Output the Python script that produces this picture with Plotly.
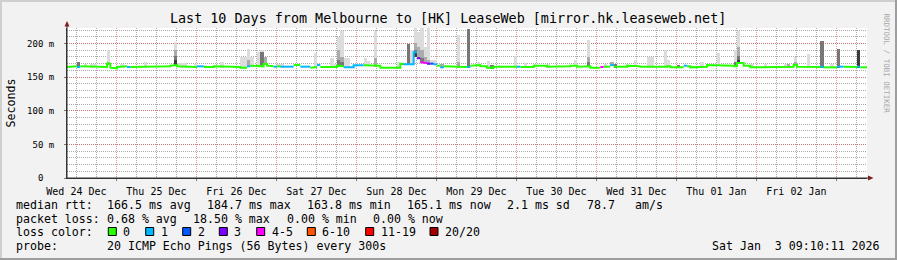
import plotly.graph_objects as go
import pandas as pd

START = "2025-12-24 09:10:11"
END = "2026-01-03 09:10:11"

# hourly median RTT (ms), one list per day of the 10-day window
median_d1 = [165,165.5,166,165,166,166,165,165,166,166,165,165,170,164,163,165,165,166,165,165,166,166,165,165]
median_d2 = [165,166,165,165,166,165,166,167,168,166,165,165,166,165,165,166,166,165,164,165,166,165,165,166]
median_d3 = [165,166,165,165,164,164,166,167,167,167,166,169.5,167,166,165.5,166,165.5,165.5,165.5,165.5,168,168,165.5,165.5]
median_d4 = [165.5,164,165,168,165,165,166,166,165,167,166,164.5,164.5,164.5,167.5,167.5,167.5,167.5,167.5,167.5,167,167,164,164]
median_d5 = [164,164,164,164,170,169,169,169,187,178,172,171,170,170,169,167,164.5,166,165,165,166,165,165,165]
median_d6 = [165,167,167,168,166,166,164,164,165.5,165.5,165.5,165.5,165.5,165.5,165.5,165.5,165,165,165,165,167,167,166,167]
median_d7 = [165.5,165.5,165.5,165.5,166,166,166,167,167,165.5,165.5,165.5,166,164,164,164,165,165.5,165.5,168,165.5,165.5,165.5,165.5]
median_d8 = [167,167,167,166,165.5,165.5,164.5,164.5,164.5,165.5,165.5,165.5,166,164.5,164.5,164.5,164.5,167,166,164.5,164.5,164.5,165.5,165.5]
median_d9 = [168,168,168,168,168,168,167,167,166,171,171,167,167,164.5,164.5,165.5,165.5,165.5,165.5,165.5,164.5,164.5,165.5,165.5]
median_d10 = [165.5,165.5,168,165.5,165.5,164.5,164.5,165,165,165,165.5,164.5,164.5,164.5,164.5,165.5,165.5,165.5,165,165,165,165.5,164.5,164.5]
median_rtt = (median_d1 + median_d2 + median_d3 + median_d4 + median_d5 +
              median_d6 + median_d7 + median_d8 + median_d9 + median_d10)

# hours with packet loss (pings lost out of 20)
loss_hours = [3,18,39,40,54,62,64,65,66,67,70,71,72,75,83,84,85,86,87,88,
              101,102,103,104,105,106,107,108,109,110,112,120,135,160,163,185,226,231,232,237]
loss_values = [1,1,1,1,1,1,1,1,1,1,1,1,1,1,1,1,1,1,1,1,
               1,1,1,1,3,4,4,3,2,1,1,1,1,4,1,1,1,1,1,1]

# smoke (ping spread) layers: hour index and top of the band in ms
light_hours = [3,5,7,8,12,16,23,32,33,34,35,38,41,46,52,53,54,55,57,58,59,63,64,74,79,80,81,82,83,84,89,90,92,99,102,103,104,105,106,107,108,109,110,117,123,126,134,137,140,144,152,156,161,170,174,175,179,180,190,195,200,201,205,209,215,218,222,229]
light_tops = [172,170,170,170,191,170,172,202,171,171,171,170,168,172,180,180,192,180,188,190,180,170,170,186,178,170,210,218,178,178,178,174,218,172,199,190,225,217,225,195,225,175,175,212,172,174,181,171,170,170,175,205,170,175,180,180,190,175,172,186,190,218,170,169,169,180,185,169]
mid_hours = [12,32,54,59,81,82,92,104,105,106,107,108,112,117,156,163,201,216,218]
mid_tops = [172,190,175,180,190,180,178,200,195,190,180,175,170,172,180,172,195,170,172]
dark_hours = [3,32,58,75,81,82,100,102,104,105,106,120,127,156,164,183,200,201,226,231]
dark_tops = [172,182,188,168,175,172,168,199,190,180,178,222,168,172,170,168,172,182,204,192]
black_hours = [32,104,201,237]
black_tops = [176,180,175,190]

loss_labels = ["0", "1", "2", "3", "4-5", "6-10", "11-19", "20/20"]
loss_bounds = [0, 1, 2, 3, 5, 10, 19, 20]
loss_colors = ["#26ff00", "#00b8ff", "#0059ff", "#7e00ff", "#ff00ff", "#ff5500", "#ff0000", "#a00000"]

day_tick_format = "%a %d %b"
y_tickvals = [0, 50, 100, 150, 200]
y_ticktext = ["0\u00a0\u2004", "50 m", "100 m", "150 m", "200 m"]

title_text = "Last 10 Days from Melbourne to [HK] LeaseWeb [mirror.hk.leaseweb.net]"
rows = [
    [("median rtt:", 16), ("166.5 ms avg", 107), ("184.7 ms max", 207), ("163.8 ms min", 307),
     ("165.1 ms now", 407), ("2.1 ms sd", 507), ("78.7", 587), ("am/s", 635)],
    [("packet loss:", 16), ("0.68 % avg", 107), ("18.50 % max", 192.7), ("0.00 % min", 286.7),
     ("0.00 % now", 372.7)],
    [("loss color:", 16)],
    [("probe:", 16), ("20 ICMP Echo Pings (56 Bytes) every 300s", 107)],
]
row_y = [204.5, 218.5, 231.5, 246]
box_x = [108.3, 145.7, 182.7, 219.3, 256.7, 307.3, 365.7, 430]
stamp = "Sat Jan  3 09:10:11 2026"

# ---------------- geometry (pixels) ----------------
W, H = 897, 260
L, R, T, B = 67, 867, 28, 178
PW, PH = R - L, B - T
Y_MAX = 223
FONT = "DejaVu Sans Mono"


def fx(px):
    return (px - L) / PW


def fy(py):
    return (B - py) / PH


edges = pd.date_range(START, periods=len(median_rtt) + 1, freq="h")
centers = edges[:-1] + pd.Timedelta(minutes=30)

fig = go.Figure()

# smoke layers
for hrs, tops, col in [(light_hours, light_tops, "#dcdcdc"),
                       (mid_hours, mid_tops, "#ababab"),
                       (dark_hours, dark_tops, "#777777"),
                       (black_hours, black_tops, "#3c3c3c")]:
    base = [median_rtt[h] - 1.5 for h in hrs]
    fig.add_trace(go.Bar(
        x=[centers[h] for h in hrs], y=[t - b for t, b in zip(tops, base)], base=base,
        width=3600000, marker=dict(color=col, line=dict(width=0)),
        hoverinfo="skip", showlegend=False))

# loss category per hour
loss_by_hour = [0] * len(median_rtt)
for h, v in zip(loss_hours, loss_values):
    loss_by_hour[h] = v
cat = []
for v in loss_by_hour:
    for i, b in enumerate(loss_bounds):
        if v <= b:
            cat.append(i)
            break

for c, col in enumerate(loss_colors):
    xs, ys, prev = [], [], False
    for h, m in enumerate(median_rtt):
        if cat[h] == c:
            xs += [edges[h], edges[h + 1]]
            ys += [m, m]
            prev = True
        elif prev:
            xs.append(None)
            ys.append(None)
            prev = False
    if xs:
        fig.add_trace(go.Scatter(x=xs, y=ys, mode="lines",
                                 line=dict(color=col, width=2, shape="linear"),
                                 hoverinfo="skip", showlegend=False, connectgaps=False))

grid_gray = "rgba(143,143,143,0.75)"
grid_red = "rgba(222,79,79,0.6)"

fig.update_layout(
    width=W, height=H,
    margin=dict(l=L, r=W - R, t=T, b=H - B, pad=0, autoexpand=False),
    paper_bgcolor="#f2f2f2", plot_bgcolor="#ffffff",
    barmode="overlay", bargap=0,
    font=dict(family=FONT, color="#000000"),
    showlegend=False,
    xaxis=dict(
        type="date", range=[START, END], automargin=False,
        dtick=86400000, tick0="2025-12-24 00:00:00",
        tickformat=day_tick_format, ticklabelmode="period",
        tickfont=dict(size=10, family=FONT),
        ticks="outside", ticklen=2, tickcolor="#777",
        showgrid=True, gridcolor=grid_red, griddash="1px,1px", gridwidth=1,
        minor=dict(dtick=6 * 3600000, tick0="2025-12-24 00:00:00", showgrid=True,
                   gridcolor=grid_gray, griddash="1px,1px", gridwidth=1),
        showline=True, linecolor="#333333", linewidth=1,
        zeroline=False, fixedrange=True, ticklabelstandoff=2,
    ),
    yaxis=dict(
        range=[0, Y_MAX], tickvals=y_tickvals, ticktext=y_ticktext, automargin=False,
        tickfont=dict(size=9, family=FONT),
        ticks="outside", ticklen=2, tickcolor="#777",
        showgrid=True, gridcolor=grid_red, griddash="1px,1px", gridwidth=1,
        minor=dict(dtick=10, showgrid=True, gridcolor=grid_gray, griddash="1px,1px", gridwidth=1),
        showline=True, linecolor="#333333", linewidth=1,
        zeroline=False, fixedrange=True, ticklabelstandoff=8,
    ),
)

shapes = []
# frame shading
shapes += [
    dict(type="rect", xref="paper", yref="paper", x0=fx(0), x1=fx(2), y0=fy(0), y1=fy(H), fillcolor="#cfcfcf", line=dict(width=0), layer="above"),
    dict(type="rect", xref="paper", yref="paper", x0=fx(0), x1=fx(W), y0=fy(0), y1=fy(2), fillcolor="#cfcfcf", line=dict(width=0), layer="above"),
    dict(type="rect", xref="paper", yref="paper", x0=fx(W - 2), x1=fx(W), y0=fy(0), y1=fy(H), fillcolor="#9e9e9e", line=dict(width=0), layer="above"),
    dict(type="rect", xref="paper", yref="paper", x0=fx(0), x1=fx(W), y0=fy(H - 2), y1=fy(H), fillcolor="#9e9e9e", line=dict(width=0), layer="above"),
]
# axis extensions and arrows
shapes += [
    dict(type="line", xref="paper", yref="paper", x0=fx(67), x1=fx(67), y0=fy(B), y1=fy(26), line=dict(color="#333333", width=1)),
    dict(type="line", xref="paper", yref="paper", x0=fx(L), x1=fx(869), y0=fy(178), y1=fy(178), line=dict(color="#333333", width=1)),
    dict(type="path", xref="paper", yref="paper",
         path=f"M {fx(64.5)} {fy(26.5)} L {fx(69.5)} {fy(26.5)} L {fx(67)} {fy(21)} Z",
         fillcolor="#801f1f", line=dict(width=0)),
    dict(type="path", xref="paper", yref="paper",
         path=f"M {fx(868)} {fy(175.5)} L {fx(868)} {fy(180.5)} L {fx(873.5)} {fy(178)} Z",
         fillcolor="#801f1f", line=dict(width=0)),
]
# loss colour boxes
for bx, col in zip(box_x, loss_colors):
    shapes.append(dict(type="rect", xref="paper", yref="paper",
                       x0=fx(bx), x1=fx(bx + 8), y0=fy(row_y[2] - 4), y1=fy(row_y[2] + 4),
                       fillcolor=col, line=dict(color="#000000", width=1)))
fig.update_layout(shapes=shapes)


def ann(text, x, y, size, xanchor="left", color="#000000", angle=0):
    return dict(text=text.replace(" ", "\u00a0"), x=fx(x), y=fy(y), xref="paper", yref="paper",
                xanchor=xanchor, yanchor="middle", showarrow=False, textangle=angle,
                font=dict(family=FONT, size=size, color=color), borderpad=0, borderwidth=0)


anns = [ann(title_text, 448, 19, 13.4, xanchor="center")]
for r, yy in zip(rows, row_y):
    for text, x in r:
        anns.append(ann(text, x, yy, 11.6))
for bx, lab in zip(box_x, loss_labels):
    anns.append(ann(lab, bx + 15, row_y[2], 11.6))
anns.append(ann(stamp, 880, row_y[3], 11.6, xanchor="right"))
anns.append(ann("Seconds", 10.5, 103, 11.6, xanchor="center", angle=-90))
anns.append(ann("RRDTOOL / TOBI OETIKER", 885.5, 63, 7.5, xanchor="center", color="#a8a8a8", angle=90))
fig.update_layout(annotations=anns)

fig.write_html("out.html")
